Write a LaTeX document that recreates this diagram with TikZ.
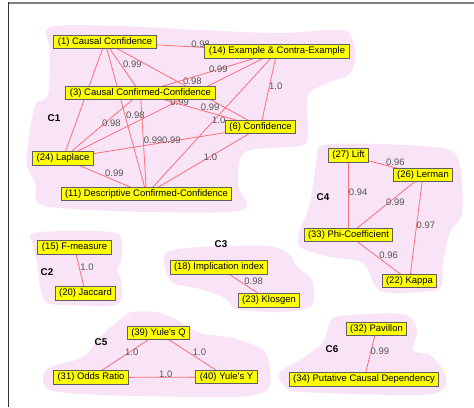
\documentclass[tikz,border=0pt]{standalone}
\usepackage{fontspec}
\setmainfont{Liberation Sans}
\definecolor{blobpink}{RGB}{249,228,247}
\definecolor{linkred}{RGB}{250,110,120}
\definecolor{boxyellow}{RGB}{255,255,0}
\definecolor{boxgray}{RGB}{95,95,95}
\definecolor{weightgray}{RGB}{85,85,85}
\pgfdeclarelayer{blobs}
\pgfdeclarelayer{links}
\pgfsetlayers{blobs,links,main}
\tikzset{
 measure/.style={draw=boxgray,fill=boxyellow,line width=.75pt,inner xsep=3pt,inner ysep=0pt,minimum height=10.1pt,font=\fontsize{7.1}{8}\selectfont},
 link/.style={draw=linkred,line width=.6pt},
 weight/.style={anchor=west,inner sep=0pt,yshift=2.2pt,text=weightgray,font=\fontsize{7.1}{8}\selectfont},
 cluster/.style={font=\fontsize{7.4}{8}\selectfont\bfseries},
 blob/.style={fill=blobpink,draw=none}
}
\begin{document}
\begin{tikzpicture}[x=.75pt,y=-.75pt]
\path[use as bounding box] (0,0) rectangle (474,407);
% panel frame
\draw[line width=1.5pt,draw=gray] (8,2.5) -- (474,2.5);
\draw[line width=1.1pt,draw=black!80] (8.5,2) -- (8.5,407);
% measures
\node[measure] (cc) at (105,42) {(1) Causal Confidence};
\node[measure] (ex) at (277,51.5) {(14) Example \& Contra-Example};
\node[measure] (ccc) at (140.5,93) {(3) Causal Confirmed-Confidence};
\node[measure] (conf) at (260.5,127) {(6) Confidence};
\node[measure] (lap) at (63,158.5) {(24) Laplace};
\node[measure] (dcc) at (146.5,194) {(11) Descriptive Confirmed-Confidence};
\node[measure] (lift) at (348.5,155.5) {(27) Lift};
\node[measure] (ler) at (423,175) {(26) Lerman};
\node[measure] (phi) at (348.5,235) {(33) Phi-Coefficient};
\node[measure] (kap) at (409.5,281) {(22) Kappa};
\node[measure] (fm) at (74.5,247.5) {(15) F-measure};
\node[measure] (jac) at (85.5,293.5) {(20) Jaccard};
\node[measure] (imp) at (219,267.5) {(18) Implication index};
\node[measure] (klo) at (269,300.5) {(23) Klosgen};
\node[measure] (yq) at (158.5,333) {(39) Yule\textquotesingle s Q};
\node[measure] (odds) at (91,377.5) {(31) Odds Ratio};
\node[measure] (yy) at (226.5,377) {(40) Yule\textquotesingle s Y};
\node[measure] (pav) at (376.5,329) {(32) Pavillon};
\node[measure] (pcd) at (364,379.5) {(34) Putative Causal Dependency};
% cluster names
\node[cluster] (c1) at (54,118) {C1};
\node[cluster] (c2) at (47,272) {C2};
\node[cluster] (c3) at (221,244) {C3};
\node[cluster] (c4) at (323,197) {C4};
\node[cluster] (c5) at (101,342) {C5};
\node[cluster] (c6) at (332,349) {C6};
% links
\begin{pgfonlayer}{links}
\draw[link] (cc.center) -- node[weight]{0.98} (ex.center);
\draw[link] (cc.center) -- node[weight]{0.99} (ccc.center);
\draw[link] (cc.center) -- node[weight]{0.98} (conf.center);
\draw[link] (cc.center) -- (lap.center);
\draw[link] (cc.center) -- node[weight]{0.98} (dcc.center);
\draw[link] (ex.center) -- node[weight]{0.99} (ccc.center);
\draw[link] (ex.center) -- node[weight]{1.0} (conf.center);
\draw[link] (ex.center) -- node[weight]{0.99} (lap.center);
\draw[link] (ex.center) -- node[weight]{1.0} (dcc.center);
\draw[link] (ccc.center) -- node[weight]{0.99} (conf.center);
\draw[link] (ccc.center) -- node[weight]{0.98} (lap.center);
\draw[link] (ccc.center) -- node[weight]{0.99} (dcc.center);
\draw[link] (conf.center) -- node[weight]{0.99} (lap.center);
\draw[link] (conf.center) -- node[weight]{1.0} (dcc.center);
\draw[link] (lap.center) -- node[weight]{0.99} (dcc.center);
\draw[link] (lift.center) -- node[weight]{0.96} (ler.center);
\draw[link] (lift.center) -- node[weight]{0.94} (phi.center);
\draw[link] (ler.center) -- node[weight]{0.99} (phi.center);
\draw[link] (ler.center) -- node[weight]{0.97} (kap.center);
\draw[link] (phi.center) -- node[weight]{0.96} (kap.center);
\draw[link] (fm.center) -- node[weight]{1.0} (jac.center);
\draw[link] (imp.center) -- node[weight]{0.98} (klo.center);
\draw[link] (yq.center) -- node[weight]{1.0} (odds.center);
\draw[link] (yq.center) -- node[weight]{1.0} (yy.center);
\draw[link] (odds.center) -- node[weight]{1.0} (yy.center);
\draw[link] (pav.center) -- node[weight]{0.99} (pcd.center);
\end{pgfonlayer}
% cluster hulls
\begin{pgfonlayer}{blobs}
\fill[blob] plot[smooth cycle,tension=.5] coordinates {(50,27) (120,26) (200,30) (280,33) (343,30) (354,45) (355,62) (348,75) (325,84) (308,96) (308,135) (300,146) (245,152) (238,185) (243,210) (150,212) (45,206) (36,185) (27,165) (28,145) (35,105) (48,95) (50,50)};
\fill[blob] plot[smooth cycle,tension=.5] coordinates {(33,233) (80,231) (117,233) (122,245) (121,262) (117,270) (121,280) (121,300) (110,306) (70,305) (47,303) (40,287) (38,268) (33,245)};
\fill[blob] plot[smooth cycle,tension=.5] coordinates {(167,252) (200,247) (268,246) (290,255) (297,267) (311,278) (314,292) (310,307) (280,312) (237,309) (225,298) (200,289) (173,283) (165,268)};
\fill[blob] plot[smooth cycle,tension=.5] coordinates {(323,145) (380,144) (447,149) (460,167) (462,213) (450,232) (443,263) (441,287) (420,292) (380,291) (363,263) (330,257) (300,247) (300,230) (307,213) (313,187) (317,157)};
\fill[blob] plot[smooth cycle,tension=.5] coordinates {(133,312) (157,312) (177,320) (200,333) (233,338) (263,350) (270,370) (267,390) (233,397) (100,395) (50,390) (43,377) (50,367) (83,357) (100,337) (123,317)};
\fill[blob] plot[smooth cycle,tension=.5] coordinates {(340,316) (403,314) (417,330) (413,350) (430,355) (443,370) (445,387) (420,395) (303,392) (283,385) (280,372) (303,358) (323,342) (330,322)};
\end{pgfonlayer}
\end{tikzpicture}
\end{document}
